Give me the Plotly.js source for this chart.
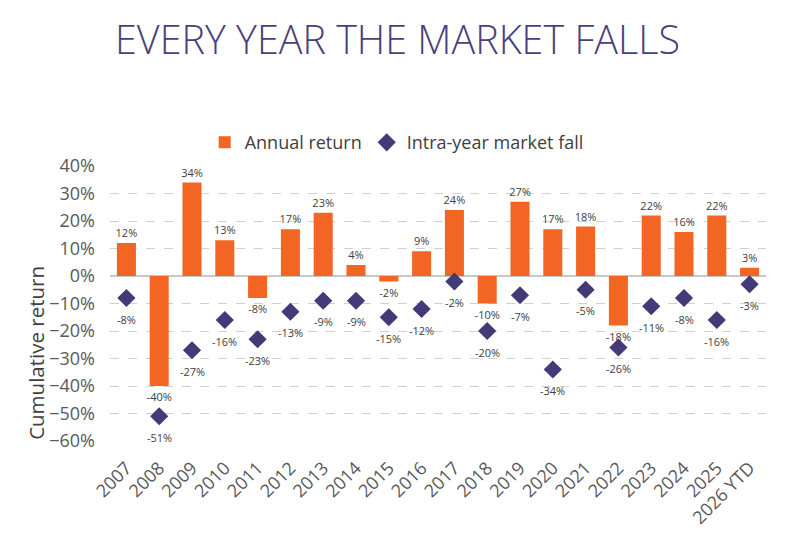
<!DOCTYPE html>
<html><head><meta charset="utf-8">
<script src="https://cdn.plot.ly/plotly-3.0.1.min.js"></script>
<style>html,body{margin:0;padding:0;background:#fff}#chart{width:808px;height:535px}</style>
</head><body><div id="chart"></div>
<script>
const years = ["2007","2008","2009","2010","2011","2012","2013","2014","2015","2016","2017","2018","2019","2020","2021","2022","2023","2024","2025","2026 YTD"];
const annualReturn = [12,-40,34,13,-8,17,23,4,-2,9,24,-10,27,17,18,-18,22,16,22,3];
const intraYearFall = [-8,-51,-27,-16,-23,-13,-9,-9,-15,-12,-2,-20,-7,-34,-5,-26,-11,-8,-16,-3];

const fontFam = "'Open Sans', sans-serif";
const mkLabelFont = () => ({size: 11, color: '#404040', family: "'Open Sans', sans-serif"});
const traces = [
  {
    type: 'bar', name: 'Annual return', x: years, y: annualReturn.map(v => v/100),
    marker: {color: '#f26522'},
    text: annualReturn.map(v => v + '%'), textposition: 'outside', constraintext: 'none',
    textfont: mkLabelFont(), cliponaxis: false, hoverinfo: 'skip'
  },
  {
    type: 'scatter', mode: 'markers', name: 'Intra-year market fall', x: years, y: intraYearFall.map(v => v/100),
    marker: {symbol: 'diamond', size: 14, color: '#433a78'},
    cliponaxis: false, hoverinfo: 'skip'
  }
];
const annotations = intraYearFall.map((v, i) => ({
  x: i, y: v/100, xref: 'x', yref: 'y', text: v + '%', showarrow: false,
  yshift: -21, font: mkLabelFont()
}));
annotations.push({
  text: 'Cumulative return', xref: 'paper', yref: 'paper', x: -0.113, y: 0.32,
  xanchor: 'center', yanchor: 'middle', textangle: -90, showarrow: false,
  font: {size: 20.5, color: '#404040', family: fontFam}
});
const layout = {
  width: 808, height: 535,
  margin: {l: 110, r: 42, t: 166, b: 94},
  paper_bgcolor: '#fff', plot_bgcolor: '#fff',
  bargap: 0.42,
  title: {text: 'EVERY YEAR THE MARKET FALLS', x: 0.492, xanchor: 'center', y: 0.925, yanchor: 'middle',
    font: {size: 39.5, color: '#4a3f7c', family: fontFam, weight: 300}},
  showlegend: true,
  legend: {orientation: 'h', x: 0.437, xanchor: 'center', y: 1.085, yanchor: 'middle',
    font: {size: 18, color: '#404040', family: fontFam}, traceorder: 'normal', itemwidth: 30},
  annotations: annotations,
  xaxis: {type: 'category', range: [-0.5, years.length - 0.5], tickangle: -45,
    tickfont: {size: 18, color: '#595959', family: fontFam}, ticklabelstandoff: 12,
    showgrid: false, showline: false, ticks: '', zeroline: false, automargin: false},
  yaxis: {range: [-0.6, 0.4], dtick: 0.1, tickformat: '.0%', automargin: false,
    tickfont: {size: 18, color: '#595959', family: fontFam}, ticklabelstandoff: 14,
    showgrid: true, gridcolor: '#d0d0d0', griddash: 'dash', gridwidth: 1,
    zeroline: true, zerolinecolor: '#c8c8c8', zerolinewidth: 1.5}
};
Plotly.newPlot('chart', traces, layout, {displayModeBar: false, staticPlot: true});
</script></body></html>
